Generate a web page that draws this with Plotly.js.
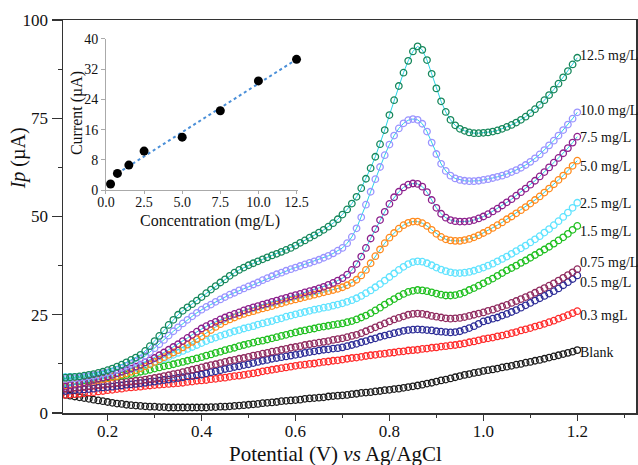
<!DOCTYPE html>
<html>
<head>
<meta charset="utf-8">
<script src="https://cdn.plot.ly/plotly-3.0.1.min.js"></script>
<style>html,body{margin:0;padding:0;background:#fff;}#chart{width:638px;height:465px;}</style>
</head>
<body>
<div id="chart"></div>
<script>
// Potential sampling grid (V vs Ag/AgCl), 0.10 to 1.20 V in 0.01 V steps
const potentialStart = 0.10, potentialStep = 0.01, potentialCount = 111;
const potential = [];
for (let i = 0; i < potentialCount; i++) potential.push(+(potentialStart + i * potentialStep).toFixed(2));

const seriesNames = ['Blank', '0.3 mgL', '0.5 mg/L', '0.75 mg/L', '1.5 mg/L', '2.5 mg/L', '5.0 mg/L', '7.5 mg/L', '10.0 mg/L', '12.5 mg/L'];

const blank = [4.8,4.6,4.4,4.2,4.0,3.8,3.6,3.4,3.2,3.0, 2.8,2.6,2.4,2.3,2.1,2.0,1.9,1.8,1.7,1.6, 1.6,1.5,1.5,1.4,1.4,1.4,1.4,1.4,1.4,1.4,
 1.4,1.4,1.5,1.5,1.6,1.6,1.7,1.8,1.9,2.0, 2.1,2.2,2.3,2.5,2.6,2.7,2.8,3.0,3.1,3.2, 3.3,3.4,3.6,3.7,3.8,3.9,4.0,4.2,4.3,4.4,
 4.5,4.6,4.8,4.9,5.1,5.2,5.3,5.5,5.6,5.8, 5.9,6.1,6.2,6.4,6.6,6.8,7.0,7.2,7.5,7.7, 8.0,8.3,8.5,8.8,9.1,9.4,9.7,9.9,10.2,10.4,
 10.7,10.9,11.1,11.3,11.6,11.8,12.0,12.3,12.5,12.8, 13.0,13.3,13.5,13.8,14.1,14.4,14.7,15.0,15.3,15.6,16.0];

const c03 = [4.5,4.6,4.7,4.8,4.9,5.0,5.2,5.3,5.5,5.6, 5.8,5.9,6.1,6.2,6.4,6.5,6.6,6.7,6.9,7.0, 7.1,7.2,7.3,7.4,7.5,7.6,7.7,7.9,8.0,8.2,
 8.3,8.4,8.6,8.7,8.9,9.0,9.2,9.4,9.5,9.7, 9.9,10.1,10.3,10.6,10.8,11.0,11.2,11.4,11.6,11.8, 12.0,12.2,12.3,12.5,12.6,12.8,13.0,13.1,13.3,13.4,
 13.6,13.8,14.0,14.1,14.3,14.5,14.7,14.8,15.0,15.1, 15.3,15.4,15.6,15.7,15.9,16.0,16.1,16.3,16.4,16.6, 16.7,16.9,17.0,17.2,17.3,17.5,17.7,18.0,18.2,18.5,
 18.8,19.0,19.2,19.5,19.7,20.0,20.3,20.6,21.0,21.3, 21.6,22.0,22.3,22.7,23.1,23.5,24.0,24.4,24.9,25.4,25.9];

const c05 = [5.5,5.6,5.7,5.8,5.9,6.0,6.1,6.2,6.4,6.5, 6.6,6.7,6.9,7.0,7.2,7.3,7.4,7.6,7.7,7.9, 8.0,8.2,8.4,8.5,8.7,8.9,9.1,9.3,9.4,9.6,
 9.8,10.1,10.4,10.6,10.9,11.2,11.4,11.7,11.9,12.2, 12.4,12.7,13.0,13.3,13.5,13.8,14.0,14.2,14.4,14.6, 14.8,15.0,15.3,15.5,15.7,15.9,16.1,16.2,16.4,16.5,
 16.7,17.0,17.3,17.6,18.0,18.3,18.7,19.0,19.4,19.7, 20.0,20.3,20.6,20.9,21.1,21.2,21.3,21.2,21.1,21.0, 20.8,20.7,20.6,20.5,20.6,20.8,21.2,21.6,22.1,22.7,
 23.3,23.6,24.0,24.3,24.8,25.2,25.7,26.2,26.8,27.4, 28.0,28.6,29.2,29.8,30.4,31.0,31.7,32.5,33.3,34.1,35.0];

const c075 = [6.0,6.2,6.3,6.5,6.6,6.8,6.9,7.1,7.2,7.4, 7.5,7.6,7.7,7.8,7.9,8.0,8.2,8.3,8.5,8.7, 8.9,9.1,9.4,9.6,9.9,10.1,10.4,10.7,11.0,11.3,
 11.6,11.9,12.2,12.4,12.7,13.0,13.3,13.5,13.8,14.0, 14.3,14.6,14.8,15.1,15.3,15.6,15.8,16.1,16.3,16.6, 16.8,17.0,17.3,17.5,17.7,17.9,18.1,18.3,18.6,18.8,
 19.0,19.3,19.6,19.9,20.3,20.8,21.3,21.8,22.3,22.8, 23.3,23.8,24.2,24.6,25.0,25.2,25.3,25.2,25.0,24.7, 24.5,24.3,24.1,24.0,24.1,24.2,24.4,24.7,25.0,25.3,
 25.6,26.0,26.3,26.7,27.1,27.5,28.0,28.5,29.0,29.5, 30.0,30.6,31.2,31.8,32.4,33.0,33.7,34.4,35.1,35.8,36.6];

const c15 = [7.8,7.9,8.0,8.1,8.2,8.3,8.4,8.6,8.7,8.9, 9.0,9.2,9.3,9.5,9.7,9.9,10.2,10.5,10.7,11.0, 11.3,11.6,11.9,12.1,12.4,12.7,13.0,13.3,13.6,13.9,
 14.2,14.6,14.9,15.3,15.6,16.0,16.3,16.6,17.0,17.3, 17.6,17.9,18.2,18.4,18.7,19.0,19.3,19.6,19.9,20.2, 20.5,20.8,21.0,21.3,21.5,21.8,22.0,22.2,22.4,22.6,
 22.8,23.1,23.4,23.8,24.3,24.8,25.4,26.1,26.8,27.6, 28.3,29.0,29.7,30.3,30.8,31.1,31.3,31.2,31.0,30.7, 30.4,30.1,29.9,29.9,30.0,30.3,30.7,31.3,31.8,32.4,
 33.0,33.6,34.2,34.9,35.6,36.3,36.9,37.5,38.2,38.8, 39.5,40.2,40.9,41.6,42.3,43.1,43.9,44.7,45.6,46.6,47.6];

const c25 = [9.3,9.2,9.2,9.2,9.2,9.2,9.3,9.4,9.5,9.7, 9.9,10.1,10.3,10.6,10.9,11.2,11.5,11.8,12.2,12.6, 13.0,13.4,13.8,14.3,14.8,15.3,15.8,16.3,16.8,17.3,
 17.8,18.3,18.8,19.2,19.6,20.0,20.4,20.8,21.1,21.5, 21.8,22.1,22.5,22.8,23.1,23.4,23.8,24.1,24.5,24.8, 25.1,25.4,25.7,26.0,26.3,26.5,26.8,27.0,27.3,27.6,
 27.9,28.3,28.7,29.2,29.8,30.5,31.2,32.0,32.8,33.7, 34.6,35.5,36.4,37.2,37.9,38.4,38.6,38.5,38.1,37.6, 37.0,36.5,36.1,35.8,35.6,35.6,35.7,35.9,36.2,36.6,
 37.0,37.5,38.0,38.6,39.2,39.8,40.5,41.2,41.9,42.6, 43.4,44.2,45.0,45.9,46.8,47.8,48.8,49.9,51.0,52.2,53.5];

const c50 = [6.8,7.0,7.2,7.4,7.6,7.8,8.0,8.2,8.4,8.6, 8.8,9.1,9.4,9.8,10.1,10.5,10.9,11.4,11.9,12.4, 13.0,13.6,14.2,14.8,15.4,16.0,16.7,17.4,18.1,18.8,
 19.5,20.3,21.1,21.9,22.6,23.3,23.8,24.3,24.8,25.2, 25.6,25.9,26.3,26.6,26.9,27.2,27.6,27.9,28.3,28.6, 28.9,29.2,29.5,29.8,30.1,30.4,30.7,31.0,31.3,31.6,
 32.0,32.5,33.1,33.9,35.0,36.4,38.1,39.9,41.6,43.2, 44.6,45.8,46.9,47.8,48.4,48.7,48.7,48.3,47.6,46.6, 45.6,44.8,44.2,43.9,43.8,43.8,44.0,44.3,44.7,45.2,
 45.8,46.4,47.1,47.8,48.5,49.3,50.0,50.8,51.6,52.4, 53.3,54.2,55.1,56.1,57.1,58.2,59.3,60.4,61.6,62.9,64.2];

const c75 = [6.5,6.7,7.0,7.2,7.5,7.8,8.1,8.4,8.7,9.0, 9.3,9.7,10.1,10.5,10.9,11.3,11.8,12.3,12.9,13.4, 14.0,14.7,15.4,16.1,16.8,17.5,18.3,19.1,19.9,20.7,
 21.5,22.1,22.7,23.2,23.8,24.3,24.8,25.2,25.6,26.1, 26.5,26.9,27.2,27.6,27.9,28.3,28.6,29.0,29.3,29.7, 30.0,30.3,30.7,31.0,31.3,31.7,32.1,32.6,33.1,33.7,
 34.3,35.2,36.4,37.9,39.8,42.0,44.4,46.8,49.1,51.2, 53.2,54.9,56.3,57.4,58.1,58.4,58.3,57.6,56.2,54.2, 52.2,50.7,49.7,49.1,48.8,48.7,48.7,48.8,49.1,49.5,
 50.0,50.6,51.3,52.0,52.8,53.6,54.4,55.3,56.2,57.1, 58.1,59.1,60.2,61.3,62.5,63.7,64.9,66.1,67.4,68.8,70.3];

const c100 = [8.5,8.6,8.7,8.8,8.9,9.1,9.3,9.5,9.7,10.0, 10.3,10.6,11.0,11.5,12.0,12.5,13.1,13.8,14.5,15.5, 16.5,17.5,18.6,19.7,20.8,21.8,22.8,23.7,24.6,25.5,
 26.3,27.0,27.6,28.3,28.9,29.5,30.1,30.6,31.2,31.7, 32.2,32.7,33.2,33.8,34.3,34.8,35.3,35.7,36.2,36.6, 37.0,37.4,37.8,38.2,38.6,39.0,39.5,40.0,40.6,41.3,
 42.0,43.2,44.8,47.0,49.8,53.0,56.3,59.5,62.6,65.6, 68.3,70.6,72.4,73.7,74.5,74.8,74.6,73.6,71.6,68.8, 65.9,63.4,61.6,60.4,59.7,59.3,59.1,59.0,59.0,59.1,
 59.3,59.5,59.8,60.1,60.4,60.8,61.3,61.8,62.4,63.1, 63.9,64.8,65.8,66.9,68.1,69.3,70.6,72.0,73.4,74.9,76.5];

const c125 = [8.8,9.0,9.1,9.2,9.3,9.5,9.7,9.9,10.2,10.5, 10.9,11.3,11.8,12.3,12.9,13.5,14.1,14.8,15.8,17.0, 18.3,19.6,21.0,22.4,23.7,25.0,26.0,26.9,27.7,28.6,
 29.5,30.5,31.4,32.3,33.2,34.0,34.9,35.7,36.4,37.0, 37.6,38.1,38.6,39.1,39.6,40.1,40.5,41.0,41.5,42.0, 42.6,43.3,43.9,44.6,45.2,45.9,46.6,47.4,48.3,49.3,
 50.5,51.8,53.3,55.0,57.2,59.6,62.3,65.2,68.4,72.0, 75.8,79.6,83.2,86.6,89.6,92.0,93.3,92.4,89.8,86.3, 82.6,79.3,76.6,74.6,73.2,72.3,71.8,71.4,71.2,71.2,
 71.3,71.4,71.6,71.9,72.3,72.8,73.3,73.9,74.6,75.4, 76.3,77.3,78.4,79.6,80.9,82.3,83.8,85.4,87.0,88.7,90.4];

const seriesValues = [blank, c03, c05, c075, c15, c25, c50, c75, c100, c125];

// Inset: calibration data
const concentration = [0.3, 0.75, 1.5, 2.5, 5.0, 7.5, 10.0, 12.5];
const peakCurrent = [1.6, 4.4, 6.6, 10.3, 14.0, 21.0, 28.9, 34.6];
const fitConc = [0.75, 12.5];
const fitCurrent = [4.4, 34.6];

const colors = ['#1a1a1a', '#ff2a2a', '#2b2b96', '#8f2a5e', '#1fbf1f', '#5fe3ff', '#ff8a1c', '#8c1f8c', '#9a94ff', '#16875b'];
const connectLine = [false, false, false, false, false, false, true, true, true, true];
const labelY = [15.5, 24.9, 33.1, 38.4, 46.2, 53.4, 62.6, 70.2, 77.0, 91.0];

const serif = '"Liberation Serif", "Times New Roman", serif';
const traces = [];
seriesValues.forEach((vals, i) => {
  traces.push({
    x: potential, y: vals, type: 'scatter',
    mode: connectLine[i] ? 'lines+markers' : 'markers',
    line: { color: '#2ad4e8', width: 1 },
    marker: { symbol: 'circle-open', size: 6.5, color: colors[i], line: { width: 1.3, color: colors[i] } },
    name: seriesNames[i], showlegend: false, hoverinfo: 'skip'
  });
});
traces.push({
  x: fitConc, y: fitCurrent, xaxis: 'x2', yaxis: 'y2', type: 'scatter', mode: 'lines',
  line: { color: '#4a8fd8', width: 2, dash: 'dot' }, showlegend: false, hoverinfo: 'skip'
});
traces.push({
  x: concentration, y: peakCurrent, xaxis: 'x2', yaxis: 'y2', type: 'scatter', mode: 'markers',
  marker: { symbol: 'circle', size: 9, color: '#000' }, cliponaxis: false, showlegend: false, hoverinfo: 'skip'
});

const annotations = seriesNames.map((n, i) => ({
  x: 1.2, y: labelY[i], xref: 'x', yref: 'y', text: n, showarrow: false,
  xanchor: 'left', yanchor: 'middle', xshift: 1,
  font: { family: serif, size: 14, color: '#111' }
}));
annotations.push({
  xref: 'paper', yref: 'paper', x: 0.4764, y: -0.104, text: 'Potential (V) <i>vs</i> Ag/AgCl',
  showarrow: false, xanchor: 'center', yanchor: 'middle', font: { family: serif, size: 21, color: '#111' }
});
annotations.push({
  xref: 'paper', yref: 'paper', x: -0.0785, y: 0.648, text: '<i>Ip</i> (µA)', textangle: -90,
  showarrow: false, xanchor: 'center', yanchor: 'middle', font: { family: serif, size: 20, color: '#111' }
});
annotations.push({
  xref: 'paper', yref: 'paper', x: 0.257, y: 0.489, text: 'Concentration (mg/L)',
  showarrow: false, xanchor: 'center', yanchor: 'middle', font: { family: serif, size: 16, color: '#111' }
});
annotations.push({
  xref: 'paper', yref: 'paper', x: 0.0244, y: 0.763, text: 'Current (µA)', textangle: -90,
  showarrow: false, xanchor: 'center', yanchor: 'middle', font: { family: serif, size: 16, color: '#111' }
});

const layout = {
  width: 638, height: 465,
  margin: { l: 63, r: 2, t: 20, b: 52, pad: 0 },
  paper_bgcolor: '#fff', plot_bgcolor: '#fff',
  font: { family: serif, color: '#111' },
  showlegend: false,
  xaxis: {
    range: [0.105, 1.325], showgrid: false, zeroline: false,
    showline: true, linecolor: '#333', linewidth: 1.5, mirror: true,
    ticks: 'outside', ticklen: 6, tickwidth: 1.2, tickcolor: '#333', ticklabelstandoff: -4,
    tickformat: '.1f',
    tickvals: [0.2, 0.4, 0.6, 0.8, 1.0, 1.2],
    minor: { tickvals: [0.3, 0.5, 0.7, 0.9, 1.1, 1.3], ticks: 'outside', ticklen: 3, tickcolor: '#333', showgrid: false },
    tickfont: { family: serif, size: 17, color: '#111' }
  },
  yaxis: {
    range: [0, 100], showgrid: false, zeroline: false,
    showline: true, linecolor: '#333', linewidth: 1.5, mirror: true,
    ticks: 'outside', ticklen: 10, tickwidth: 1.2, tickcolor: '#333',
    tickvals: [0, 25, 50, 75, 100],
    minor: { tickvals: [12.5, 37.5, 62.5, 87.5], ticks: 'outside', ticklen: 4, tickcolor: '#333', showgrid: false },
    tickfont: { family: serif, size: 17, color: '#111' }
  },
  xaxis2: {
    domain: [0.075, 0.4102], anchor: 'y2', range: [0, 12.6],
    showgrid: false, zeroline: false, showline: true, linecolor: '#aaa', linewidth: 1,
    ticks: 'outside', ticklen: 3, tickcolor: '#aaa', ticklabelstandoff: -4,
    tickvals: [0, 2.5, 5, 7.5, 10, 12.5], tickformat: '.1f',
    tickfont: { family: serif, size: 14, color: '#111' }
  },
  yaxis2: {
    domain: [0.5674, 0.9517], anchor: 'x2', range: [0, 40],
    showgrid: false, zeroline: false, showline: true, linecolor: '#aaa', linewidth: 1,
    ticks: 'outside', ticklen: 4, tickcolor: '#aaa',
    tickvals: [0, 8, 16, 24, 32, 40],
    tickfont: { family: serif, size: 14, color: '#111' }
  },
  annotations: annotations
};

Plotly.newPlot('chart', traces, layout, { staticPlot: true, displayModeBar: false });
</script>
</body>
</html>
